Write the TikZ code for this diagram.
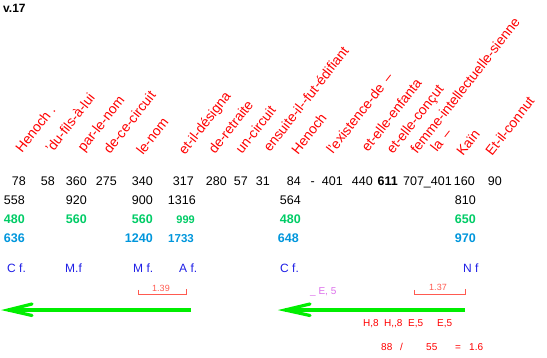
\documentclass[tikz,border=0pt]{standalone}
\usepackage{fontspec}
\setmainfont{Liberation Sans}
\definecolor{lblred}{RGB}{255,0,0}
\definecolor{numgreen}{RGB}{0,204,102}
\definecolor{numblue}{RGB}{0,150,220}
\definecolor{lblblue}{RGB}{30,30,230}
\definecolor{brk}{RGB}{255,90,80}
\definecolor{orchid}{RGB}{220,110,235}
\definecolor{arrgreen}{RGB}{0,238,0}
\tikzset{
  rlab/.style={anchor=base west, rotate=52, inner sep=0pt, text=lblred, font=\fontsize{13.8}{16}\selectfont},
  num/.style={anchor=base east, inner sep=0pt, font=\fontsize{12.5}{14}\selectfont},
  numb/.style={num, font=\fontsize{12.5}{14}\selectfont\bfseries},
  gnum/.style={numb, text=numgreen},
  bnum/.style={numb, text=numblue},
  smallnum/.style={anchor=base east, inner sep=0pt, font=\fontsize{11}{13}\selectfont},
  flab/.style={anchor=base west, inner sep=0pt, text=lblblue, font=\fontsize{12}{14}\selectfont},
  rsmall/.style={anchor=base west, inner sep=0pt, text=lblred, font=\fontsize{10}{12}\selectfont},
  brlab/.style={anchor=base, inner sep=0pt, text=brk, font=\fontsize{9}{11}\selectfont},
  brline/.style={draw=brk, line width=1pt},
  garrow/.style={draw=arrgreen, line width=3.2pt},
}
\begin{document}
\begin{tikzpicture}[x=1pt,y=-1pt]
\useasboundingbox (0,0) rectangle (547,358);
\node[anchor=base west, inner sep=0pt, font=\fontsize{12}{14}\selectfont\bfseries] (ver) at (3,13) {v.17};
% rotated labels
\node[rlab] (l1) at (22,154) {Henoch .};
\node[rlab] (l2) at (52,154) {'du-fils-à-lui};
\node[rlab] (l3) at (84,153) {par-le-nom};
\node[rlab] (l4) at (110,155) {de-ce-circuit};
\node[rlab] (l5) at (143,156) {le-nom};
\node[rlab] (l6) at (185,156) {et-il-désigna};
\node[rlab] (l7) at (215,155) {de-retraite};
\node[rlab] (l8) at (242,155) {un-circuit};
\node[rlab] (l9) at (270,153) {ensuite-il-{}-fut-édifiant};
\node[rlab] (l10) at (298,156) {Henoch};
\node[rlab] (l11) at (333,155) {l'existence-de \,–};
\node[rlab] (l12) at (368,153) {et-elle-enfanta};
\node[rlab] (l13) at (393,155) {et-elle-conçut};
\node[rlab] (l14) at (417,155) {femme-intellectuelle-sienne};
\node[rlab] (l15) at (437,153) {la \,–};
\node[rlab] (l16) at (463,157) {Kaïn};
\node[rlab] (l17) at (492,157) {Et-il-connut};
% row 1
\node[num] (n1) at (26,186) {78};
\node[num] (n2) at (55,186) {58};
\node[num] (n3) at (87,186) {360};
\node[num] (n4) at (117,186) {275};
\node[num] (n5) at (153,186) {340};
\node[num] (n6) at (194,186) {317};
\node[num] (n7) at (227,186) {280};
\node[num] (n8) at (248,186) {57};
\node[num] (n9) at (270,186) {31};
\node[num] (n10) at (301,186) {84};
\node[num] (n11) at (315,186) {-};
\node[num] (n12) at (343,186) {401};
\node[num] (n13) at (373,186) {440};
\node[numb] (n14) at (398,186) {611};
\node[num] (n15) at (452,186) {707\_401};
\node[num] (n16) at (475,186) {160};
\node[num] (n17) at (502,186) {90};
% row 2
\node[num] (m1) at (25,205) {558};
\node[num] (m2) at (87,205) {920};
\node[num] (m3) at (153,205) {900};
\node[num] (m4) at (196,205) {1316};
\node[num] (m5) at (301,205) {564};
\node[num] (m6) at (476,205) {810};
% row 3
\node[gnum] (g1) at (25,224) {480};
\node[gnum] (g2) at (87,224) {560};
\node[gnum] (g3) at (153,224) {560};
\node[smallnum, text=numgreen, font=\fontsize{11}{13}\selectfont\bfseries] (g4) at (195,224) {999};
\node[gnum] (g5) at (301,224) {480};
\node[gnum] (g6) at (476,224) {650};
% row 4
\node[bnum] (b1) at (25,243) {636};
\node[bnum] (b2) at (153,243) {1240};
\node[smallnum, text=numblue, font=\fontsize{11.5}{13}\selectfont\bfseries] (b3) at (194,243) {1733};
\node[bnum] (b4) at (299,243) {648};
\node[bnum] (b5) at (476,243) {970};
% blue labels
\node[flab] (f1) at (7,273) {C f.};
\node[flab] (f2) at (65,273) {M.f};
\node[flab] (f3) at (133,273) {M f.};
\node[flab] (f4) at (179,273) {A f.};
\node[flab] (f5) at (280,273) {C f.};
\node[flab] (f6) at (463,273) {N f};
% brackets
\coordinate (k1a) at (138.5,290);
\coordinate (k1b) at (138.5,295);
\coordinate (k1c) at (186.5,295);
\coordinate (k1d) at (186.5,289);
\draw[brline] (k1a) -- (k1b) -- (k1c) -- (k1d);
\node[brlab] (k1l) at (161,292) {1.39};
\coordinate (k2a) at (414.5,290);
\coordinate (k2b) at (414.5,295);
\coordinate (k2c) at (465,295);
\coordinate (k2d) at (465,289);
\draw[brline] (k2a) -- (k2b) -- (k2c) -- (k2d);
\node[brlab] (k2l) at (438,291) {1.37};
\node[anchor=base west, inner sep=0pt, text=orchid, font=\fontsize{10}{12}\selectfont] (e5) at (310,295) {\_ E, 5};
% green arrows
\coordinate (a1s) at (191,310);
\coordinate (a1t) at (8,310);
\coordinate (a1u) at (32,304);
\coordinate (a1v) at (32,315.5);
\draw[garrow] (a1s) -- (a1t);
\draw[garrow, line cap=round] (a1u) -- (a1t) -- (a1v);
\coordinate (a2s) at (465,310);
\coordinate (a2t) at (285,310);
\coordinate (a2u) at (310,304);
\coordinate (a2v) at (310,315.5);
\draw[garrow] (a2s) -- (a2t);
\draw[garrow, line cap=round] (a2u) -- (a2t) -- (a2v);
% red bottom texts
\node[rsmall] (h1) at (363,327) {H,8};
\node[rsmall] (h2) at (384,327) {H{,}{,}8};
\node[rsmall] (h3) at (408,327) {E,5};
\node[rsmall] (h4) at (437,327) {E,5};
\node[rsmall] (r1) at (381,351) {88};
\node[rsmall] (r2) at (400,351) {/};
\node[rsmall] (r3) at (426,351) {55};
\node[rsmall] (r4) at (455,351) {=};
\node[rsmall] (r5) at (469,351) {1.6};
\end{tikzpicture}
\end{document}
